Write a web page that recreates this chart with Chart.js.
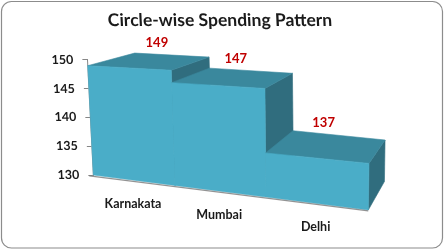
<!DOCTYPE html>
<html><head><meta charset="utf-8">
<script src="https://cdn.jsdelivr.net/npm/chart.js@4"></script>
<style>html,body{margin:0;padding:0;background:#fff}canvas{display:block}</style>
</head><body>
<canvas id="c" width="444" height="250"></canvas>
<script>
// ---- data ----
const categories = ['Karnakata', 'Mumbai', 'Delhi'];
const spending = [149, 147, 137];
const yTicks = [130, 135, 140, 145, 150];
const chartTitle = 'Circle-wise Spending Pattern';

// ---- 3D look (geometry of the perspective, not data) ----
const persp = {
  leftSkew: 5.9, rightTopShift: 1.3, rightTopDrop: 14.2,
  rightBottomShift: -0.7, rightBottomDrop: 35,
  vpDx: 146, vpDy: -109, depth: 0.11
};
const colors = { front: '#4aadc8', top: '#3a889d', side: '#306d7e', label: '#c00000', axis: '#868686', text: '#1a1a1a' };

function quadMap(p0, p1, p2, p3) {
  const dx1 = p1[0]-p2[0], dx2 = p3[0]-p2[0], dx3 = p0[0]-p1[0]+p2[0]-p3[0];
  const dy1 = p1[1]-p2[1], dy2 = p3[1]-p2[1], dy3 = p0[1]-p1[1]+p2[1]-p3[1];
  const den = dx1*dy2 - dx2*dy1;
  const g = (dx3*dy2 - dx2*dy3)/den, h = (dx1*dy3 - dx3*dy1)/den;
  const a = p1[0]-p0[0]+g*p1[0], b = p3[0]-p0[0]+h*p3[0], c = p0[0];
  const d = p1[1]-p0[1]+g*p1[1], e = p3[1]-p0[1]+h*p3[1], f = p0[1];
  return (u, v) => { const w = g*u + h*v + 1; return [(a*u+b*v+c)/w, (d*u+e*v+f)/w]; };
}
function projector(chart) {
  const A = chart.chartArea, L = A.left, R = A.right, T = A.top, B = A.bottom;
  const map = quadMap([L, T], [R+persp.rightTopShift, T+persp.rightTopDrop],
                      [R+persp.rightBottomShift, B+persp.rightBottomDrop], [L+persp.leftSkew, B]);
  const vp = [R + persp.vpDx, T + persp.vpDy];
  return {
    front: (px, py) => map((px-L)/(R-L), (py-T)/(B-T)),
    back: (p, k) => { k = (k === undefined ? persp.depth : k); return [p[0]+k*(vp[0]-p[0]), p[1]+k*(vp[1]-p[1])]; }
  };
}
function poly(ctx, pts, fill) {
  ctx.beginPath(); ctx.moveTo(pts[0][0], pts[0][1]);
  for (let i = 1; i < pts.length; i++) ctx.lineTo(pts[i][0], pts[i][1]);
  ctx.closePath(); ctx.fillStyle = fill; ctx.fill();
  ctx.strokeStyle = fill; ctx.lineWidth = 0.6; ctx.stroke();
}

const bar3d = {
  id: 'bar3d',
  beforeDraw(chart) {
    const A = chart.chartArea, ctx = chart.ctx;
    const k = persp.leftSkew / (A.bottom - A.top);
    ctx.save();
    ctx.transform(1, 0, k, 1, -k*A.top, 0);
  },
  beforeDatasetsDraw(chart) { chart.ctx.restore(); },
  afterDatasetsDraw(chart) {
    const ctx = chart.ctx, P = projector(chart), A = chart.chartArea;
    const yScale = chart.scales.y;
    const basePx = yScale.getPixelForValue(yScale.min);
    const meta = chart.getDatasetMeta(0);
    const bars = meta.data.map(el => el.getProps(['x', 'y', 'width'], true));
    ctx.save();
    bars.forEach(b => {
      const l = b.x - b.width/2, r = b.x + b.width/2;
      const fTL = P.front(l, b.y), fTR = P.front(r, b.y), fBR = P.front(r, basePx), fBL = P.front(l, basePx);
      const bTL = P.back(fTL), bTR = P.back(fTR), bBR = P.back(fBR);
      poly(ctx, [fTR, bTR, bBR, fBR], colors.side);
      poly(ctx, [fTL, bTL, bTR, fTR], colors.top);
      poly(ctx, [fTL, fTR, fBR, fBL], colors.front);
    });
    // floor edge
    const f0 = P.front(A.left, basePx), f1 = P.front(A.right, basePx);
    ctx.beginPath(); ctx.moveTo(f0[0]-4, f0[1]+0.8); ctx.lineTo(f1[0], f1[1]+0.8);
    ctx.strokeStyle = 'rgba(120,120,120,0.8)'; ctx.lineWidth = 1.2; ctx.stroke();
    // value labels
    ctx.font = 'bold 13px Lato';
    ctx.textAlign = 'center'; ctx.textBaseline = 'middle';
    ctx.fillStyle = colors.label;
    bars.forEach((b, i) => {
      const p = P.back(P.front(b.x, b.y));
      ctx.fillText(String(spending[i]), p[0] - 14, p[1] - 12);
    });
    // category labels along the slanted floor
    ctx.font = 'bold 12.5px Lato';
    ctx.fillStyle = colors.text;
    bars.forEach((b, i) => {
      const p = P.front(b.x, basePx);
      ctx.fillText(categories[i], p[0], p[1] + 24);
    });
    ctx.restore();
  },
  afterDraw(chart) {
    const ctx = chart.ctx;
    ctx.save();
    ctx.beginPath();
    ctx.roundRect(1.5, 1.5, 441, 246.5, 10);
    ctx.strokeStyle = '#8c8c8c'; ctx.lineWidth = 1.2; ctx.stroke();
    ctx.restore();
  }
};

new Chart(document.getElementById('c'), {
  type: 'bar',
  data: {
    labels: categories,
    datasets: [{
      data: spending,
      backgroundColor: 'rgba(0,0,0,0)', borderWidth: 0,
      barPercentage: 1, categoryPercentage: 1
    }]
  },
  options: {
    responsive: false, animation: false, devicePixelRatio: 1,
    layout: { padding: { left: 0, right: 0, top: 0, bottom: 75 } },
    plugins: {
      legend: { display: false }, tooltip: { enabled: false },
      title: {
        display: true, text: chartTitle, color: colors.text,
        font: { family: 'Lato', weight: 'bold', size: 17.5, lineHeight: 1.2 },
        padding: { top: 10, bottom: 28.8 }
      }
    },
    scales: {
      x: { display: false, offset: true },
      y: {
        min: 130, max: 150,
        afterFit: s => { s.width = 87.4; },
        afterBuildTicks: s => { s.ticks = yTicks.map(v => ({ value: v })); },
        grid: { drawOnChartArea: false, drawTicks: true, tickLength: 5, color: colors.axis },
        border: { display: true, color: colors.axis },
        ticks: { color: colors.text, padding: 9, font: { family: 'Lato', weight: 'bold', size: 12.5 } }
      },
      yRight: {
        position: 'right', min: 130, max: 150,
        afterFit: s => { s.width = 75; },
        grid: { display: false }, border: { display: false }, ticks: { display: false }
      }
    }
  },
  plugins: [bar3d]
});
</script>
</body></html>
